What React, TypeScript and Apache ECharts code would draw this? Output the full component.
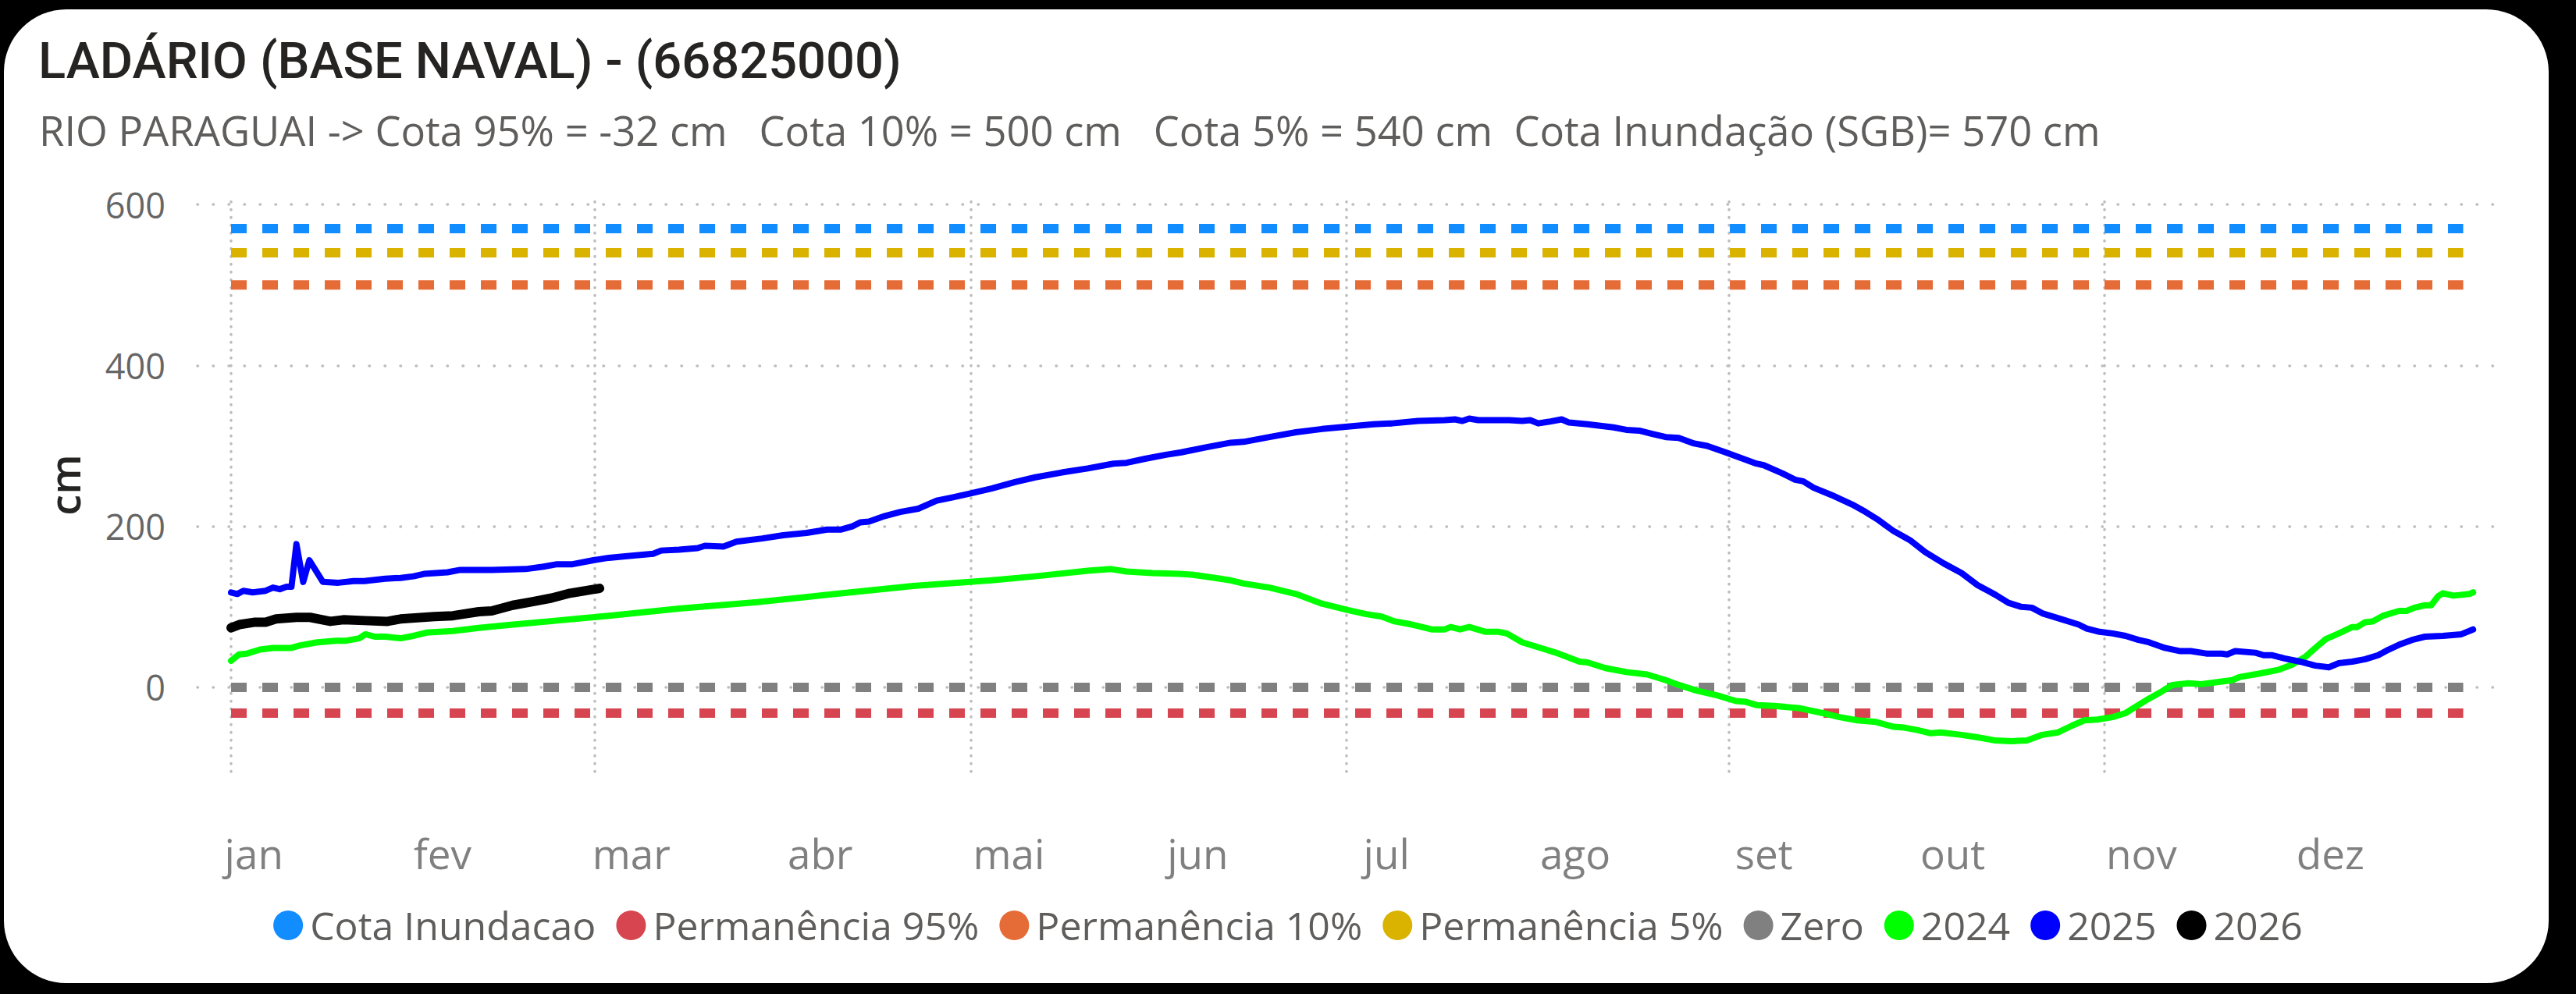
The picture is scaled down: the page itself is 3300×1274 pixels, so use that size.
import React, { useEffect, useRef } from "react";
import * as echarts from "echarts";

const monthNames = ["jan", "fev", "mar", "abr", "mai", "jun", "jul", "ago", "set", "out", "nov", "dez"];
const gridMonthDays = [0, 59, 120, 181, 243, 304];
const yTickValues = [0, 200, 400, 600];

const refNames = ["Cota Inundacao", "Permanência 95%", "Permanência 10%", "Permanência 5%", "Zero"];
const refValues = [570, -32, 500, 540, 0];
const refColors = ["#118DFF", "#D64550", "#E66C37", "#D9B300", "#808080"];
const refDays = [0, 362.2];

const yearNames = ["2024", "2025", "2026"];
const yearColors = ["#00FF00", "#0000FF", "#000000"];

const level2024: [number, number][] = [
  [0, 33], [1.3, 41], [2.6, 42], [4.7, 47], [6.8, 49], [9.8, 49], [11.1, 52], [14, 56], [17, 58], [18.7, 58],
  [20.8, 61], [21.8, 66], [23.3, 63], [25, 63], [27.5, 61], [29.6, 64], [31.7, 68], [36, 70], [40.2, 74], [44.4, 77],
  [48.6, 80], [52.9, 83], [57.1, 86], [61.3, 89], [72.7, 98], [85.4, 106], [98, 116], [110.7, 126], [123.4, 133],
  [130.5, 138], [139, 145], [142.8, 147], [145.3, 144], [149.5, 142], [153.8, 141], [155.9, 140], [158.8, 137],
  [162.2, 133], [164.3, 129], [168.5, 124], [172.8, 116], [177, 104], [181.2, 96], [184.2, 91], [186.7, 88],
  [188.8, 82], [191, 79], [192.2, 77], [194.8, 72], [196.9, 72], [197.9, 75], [199.4, 72], [200.9, 75], [203.6, 69],
  [205.7, 69], [207, 67], [209.5, 56], [212.9, 48], [215.4, 42], [218.8, 32], [220.1, 31], [223, 24], [226.4, 19],
  [229.8, 16], [232.8, 9], [234.9, 3], [237.8, -4], [241.2, -10], [244.2, -17], [245.8, -18], [247.5, -22],
  [250.4, -23], [254.6, -26], [258.9, -33], [261, -37], [263.9, -41], [266.9, -43], [269.8, -49], [271.5, -50],
  [273.6, -53], [275.8, -57], [277.4, -56], [280.8, -59], [283.4, -62], [286.3, -66], [288.8, -67], [291.4, -66],
  [293.9, -59], [296.4, -56], [298.6, -48], [300.7, -41], [302.8, -40], [305.3, -37], [307.4, -32], [309.5, -22],
  [311.2, -14], [313.3, -5], [315, 3], [317.6, 5], [319.7, 4], [321.8, 6], [324.7, 9], [326, 13], [329, 17],
  [332.3, 22], [334.4, 28], [336.6, 38], [338.2, 49], [339.9, 60], [342, 67], [344.2, 75], [345, 75], [346.3, 81],
  [347.5, 82], [349.2, 89], [351.8, 95], [353, 95], [354.3, 99], [356, 102], [357, 102], [358.1, 113], [358.9, 117],
  [360.6, 114], [361.9, 115], [363.2, 116], [363.8, 118],
];

const level2025: [number, number][] = [
  [0, 118], [1, 116], [2, 120], [3.5, 118], [5.6, 120], [6.8, 124], [7.9, 122], [9, 125], [9.8, 125], [10.6, 178],
  [11.7, 131], [12.7, 158], [14.9, 131], [17.4, 130], [19.9, 132], [21.6, 132], [25, 135], [27.5, 136], [29.6, 138],
  [31.3, 141], [35.1, 143], [37.2, 146], [42.3, 146], [47.8, 147], [50.7, 150], [52.9, 153], [55.4, 153], [58.8, 158],
  [61.3, 161], [64.3, 163], [68.5, 166], [69.8, 170], [72.7, 171], [75.7, 173], [76.9, 176], [79.9, 175], [82, 181],
  [86.2, 185], [89.6, 189], [93.4, 192], [96.7, 196], [98.9, 196], [100.8, 200], [102.1, 205], [103.5, 206],
  [106.1, 213], [108.6, 218], [111.5, 222], [114.5, 232], [117, 236], [120, 241], [123.4, 247], [127.2, 255],
  [130.5, 261], [134.8, 267], [139, 272], [143.2, 278], [145.3, 279], [148.3, 284], [151.7, 289], [154.2, 292],
  [158, 298], [162.2, 304], [164.3, 305], [168.5, 311], [172.8, 317], [177, 321], [181.2, 324], [185.4, 327],
  [188.4, 328], [192.6, 331], [196.9, 332], [198.6, 333], [199.8, 331], [200.9, 334], [202.4, 332], [207.4, 332],
  [209.5, 331], [210.8, 332], [212.1, 328], [213.8, 330], [215.9, 333], [217.1, 329], [220.1, 327], [224.3, 323],
  [226.4, 320], [228.5, 319], [230.6, 315], [232.8, 311], [234.9, 310], [237.4, 303], [239.5, 300], [242.5, 292],
  [245, 285], [247.5, 278], [248.7, 276], [251.7, 266], [253.8, 258], [255.1, 256], [256.8, 248], [259.7, 239],
  [263.1, 227], [265.2, 218], [267.3, 208], [269.8, 194], [272.4, 183], [274.9, 168], [277.9, 154], [280.8, 142],
  [283.4, 127], [286.3, 115], [288.4, 105], [290.5, 100], [292.2, 99], [293.9, 92], [296.9, 85], [299.8, 78],
  [301.1, 73], [303.2, 69], [305.3, 67], [307.4, 64], [309.5, 59], [311.2, 56], [313.8, 49], [316.3, 45], [318, 45],
  [320.5, 42], [323, 42], [323.9, 41], [325.2, 45], [328.5, 43], [329.8, 40], [331.1, 40], [333.2, 36], [335.7, 32],
  [338.2, 27], [340.4, 25], [342, 30], [344.2, 32], [346.3, 35], [348.4, 40], [350.1, 47], [351.8, 53], [353.9, 59],
  [356, 63], [358.9, 64], [361.9, 66], [363.8, 72],
];

const level2026: [number, number][] = [
  [0, 74], [1.35, 78], [3.9, 81], [5.6, 81], [7.3, 85], [10.6, 87], [12.8, 87], [16.1, 82], [18.2, 84], [21.6, 83],
  [25.4, 82], [27.5, 85], [33, 88], [36, 89], [40.2, 94], [42.3, 95], [45.7, 102], [48.6, 106], [52, 111], [55, 117],
  [59.8, 123],
];

const yearData = [level2024, level2025, level2026];
const yearWidths = [8, 8, 12];

const titleText = "LADÁRIO (BASE NAVAL) - (66825000)";
const subtitleText =
  "RIO PARAGUAI -> Cota 95% = -32 cm   Cota 10% = 500 cm   Cota 5% = 540 cm  Cota Inundação (SGB)= 570 cm";

// month labels are evenly spaced along the axis
const LABEL_START = 3.7;
const LABEL_STEP = 30.63;
const labelDays = monthNames.map((_, i) => LABEL_START + i * LABEL_STEP);

export default function App() {
  const ref = useRef<HTMLDivElement>(null);

  useEffect(() => {
    if (!ref.current) return;
    const chart = echarts.init(ref.current, undefined, { renderer: "svg" });

    const gridDot = { color: "#BDBDBD", width: 3.5, cap: "round" as const };

    const refSeries = refNames.map((name, i) => ({
      name,
      type: "line" as const,
      data: refDays.map((d) => [d, refValues[i]]),
      showSymbol: false,
      symbol: "none",
      color: refColors[i],
      itemStyle: { color: refColors[i] },
      lineStyle: { color: refColors[i], width: 12, type: [20, 20], cap: "butt" },
      z: 2,
      silent: true,
      markLine:
        i === 0
          ? {
              silent: true,
              symbol: ["none", "none"],
              z: 1,
              label: { show: false },
              animation: false,
              data: [
                ...gridMonthDays.map((d) => ({
                  xAxis: d,
                  lineStyle: { ...gridDot, type: [0.5, 9.5] },
                })),
                ...yTickValues.map((v) => ({
                  yAxis: v,
                  lineStyle: { ...gridDot, type: [0.5, 19.5] },
                })),
              ],
            }
          : undefined,
    }));

    const yearSeries = yearNames.map((name, i) => ({
      name,
      type: "line" as const,
      data: yearData[i],
      showSymbol: false,
      symbol: "none",
      color: yearColors[i],
      itemStyle: { color: yearColors[i] },
      lineStyle: { color: yearColors[i], width: yearWidths[i], cap: "round", join: "round" },
      z: 3,
      silent: true,
    }));

    chart.setOption({
      animation: false,
      backgroundColor: "#000000",
      graphic: [
        {
          type: "rect",
          z: -10,
          silent: true,
          shape: { x: 5, y: 12, width: 3260, height: 1248, r: 80 },
          style: { fill: "#FFFFFF" },
        },
      ],
      title: [
        {
          text: titleText,
          left: 49,
          top: 45,
          padding: 0,
          textStyle: { fontFamily: "Roboto", fontWeight: 500, fontSize: 65, color: "#252423" },
        },
        {
          text: subtitleText,
          left: 50,
          top: 140,
          padding: 0,
          textStyle: { fontFamily: "Open Sans", fontWeight: 400, fontSize: 52.5, color: "#605E5C" },
        },
      ],
      legend: {
        data: [...refNames, ...yearNames],
        icon: "circle",
        itemWidth: 38,
        itemHeight: 38,
        itemGap: 26,
        left: "center",
        top: 1156,
        itemStyle: { borderWidth: 0 },
        textStyle: { fontFamily: "Open Sans", fontSize: 50, color: "#605E5C", padding: [0, 0, 0, 4] },
      },
      grid: { left: 253, right: 105, top: 254, bottom: 285, containLabel: false },
      xAxis: {
        type: "value",
        min: -5.45,
        max: 367.2,
        axisLine: { show: false },
        axisTick: { show: false },
        splitLine: { show: false },
        axisLabel: {
          customValues: labelDays,
          margin: 78,
          fontFamily: "Open Sans",
          fontSize: 53,
          color: "#808080",
          formatter: (v: number) => {
            const i = labelDays.findIndex((d) => Math.abs(d - v) < 0.01);
            return i >= 0 ? monthNames[i] : "";
          },
        },
      },
      yAxis: {
        type: "value",
        min: -104.7,
        max: 607.8,
        name: "cm",
        nameLocation: "middle",
        nameRotate: 90,
        nameGap: 144,
        nameTextStyle: { fontFamily: "Open Sans", fontWeight: 600, fontSize: 54, color: "#252423" },
        axisLine: { show: false },
        axisTick: { show: false },
        splitLine: { show: false },
        axisLabel: {
          customValues: yTickValues,
          margin: 41,
          fontFamily: "Open Sans",
          fontSize: 45,
          color: "#666666",
        },
      },
      series: [...refSeries, ...yearSeries],
    });

    return () => chart.dispose();
  }, []);

  return (
    <div
      ref={ref}
      style={{ position: "fixed", left: 0, top: 0, width: 3300, height: 1274 }}
    />
  );
}
